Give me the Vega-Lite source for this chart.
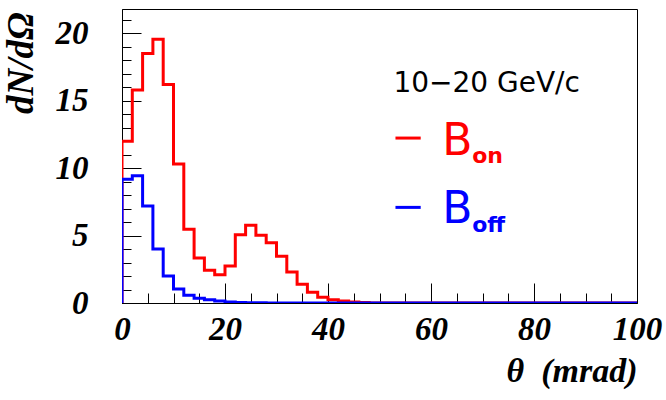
{
  "$schema": "https://vega.github.io/schema/vega-lite/v6.json",
  "width": 515,
  "height": 294,
  "autosize": {"type": "none"},
  "padding": {"left": 122, "top": 9, "right": 29, "bottom": 97},
  "background": "white",
  "config": {
    "view": {"stroke": "black", "strokeWidth": 1},
    "axis": {
      "grid": false,
      "domainColor": "black",
      "domainWidth": 1,
      "tickColor": "black",
      "tickWidth": 1,
      "labelFont": "Liberation Serif",
      "labelFontWeight": "bold",
      "labelFontStyle": "italic",
      "labelFontSize": 33,
      "labelColor": "black",
      "titleFont": "Liberation Serif",
      "titleFontWeight": "bold",
      "titleFontStyle": "italic",
      "titleColor": "black"
    }
  },
  "datasets": {
    "on": [
      {"theta": 0, "v": 0},
      {"theta": 0, "v": 12.0},
      {"theta": 2, "v": 15.8},
      {"theta": 4, "v": 18.5},
      {"theta": 6, "v": 19.55},
      {"theta": 8, "v": 16.2},
      {"theta": 10, "v": 10.3},
      {"theta": 12, "v": 5.47},
      {"theta": 14, "v": 3.34},
      {"theta": 16, "v": 2.43},
      {"theta": 18, "v": 2.1},
      {"theta": 20, "v": 2.75},
      {"theta": 22, "v": 5.07},
      {"theta": 24, "v": 5.77},
      {"theta": 26, "v": 5.02},
      {"theta": 28, "v": 4.46},
      {"theta": 30, "v": 3.47},
      {"theta": 32, "v": 2.3},
      {"theta": 34, "v": 1.39},
      {"theta": 36, "v": 0.79},
      {"theta": 38, "v": 0.42},
      {"theta": 40, "v": 0.25},
      {"theta": 42, "v": 0.15},
      {"theta": 44, "v": 0.07},
      {"theta": 46, "v": 0.03},
      {"theta": 48, "v": 0},
      {"theta": 100, "v": 0}
    ],
    "off": [
      {"theta": 0, "v": 0},
      {"theta": 0, "v": 9.18},
      {"theta": 2, "v": 9.43},
      {"theta": 4, "v": 7.2},
      {"theta": 6, "v": 4.0},
      {"theta": 8, "v": 2.0},
      {"theta": 10, "v": 1.04},
      {"theta": 12, "v": 0.57},
      {"theta": 14, "v": 0.35},
      {"theta": 16, "v": 0.25},
      {"theta": 18, "v": 0.15},
      {"theta": 20, "v": 0.07},
      {"theta": 22, "v": 0.04},
      {"theta": 24, "v": 0.02},
      {"theta": 26, "v": 0.01},
      {"theta": 28, "v": 0},
      {"theta": 100, "v": 0}
    ]
  },
  "resolve": {"axis": {"x": "independent", "y": "independent"}},
  "layer": [
    {
      "data": {"name": "on"},
      "mark": {"type": "line", "interpolate": "step-after", "color": "#ff0000", "strokeWidth": 3, "clip": true},
      "encoding": {
        "x": {
          "field": "theta", "type": "quantitative",
          "scale": {"domain": [0, 100], "nice": false, "zero": false},
          "axis": {
            "orient": "bottom",
            "values": [0, 20, 40, 60, 80, 100],
            "tickSize": -20,
            "labelPadding": 30,
            "labelBaseline": "top",
            "labelFlush": false,
            "labelOverlap": false,
            "title": "θ\u00a0\u00a0(mrad)",
            "titleFontSize": 34,
            "titleAnchor": null,
            "titleX": 515,
            "titleY": 78,
            "titleAlign": "right",
            "titleBaseline": "alphabetic"
          }
        },
        "y": {
          "field": "v", "type": "quantitative",
          "scale": {"domain": [0, 21.8], "nice": false},
          "axis": {
            "orient": "left",
            "values": [0, 5, 10, 15, 20],
            "tickSize": -19,
            "labelPadding": 53,
            "labelFlush": false,
            "labelOverlap": false,
            "title": "dN/dΩ",
            "titleFontSize": 37,
            "titleAnchor": null,
            "titleAngle": 270,
            "titleX": -90,
            "titleY": 3,
            "titleAlign": "right",
            "titleBaseline": "alphabetic"
          }
        }
      }
    },
    {
      "data": {"name": "off"},
      "mark": {"type": "line", "interpolate": "step-after", "color": "#0000ff", "strokeWidth": 3, "clip": true},
      "encoding": {
        "x": {
          "field": "theta", "type": "quantitative",
          "scale": {"domain": [0, 100], "nice": false, "zero": false},
          "axis": {
            "orient": "bottom",
            "values": [5, 10, 15, 25, 30, 35, 45, 50, 55, 65, 70, 75, 85, 90, 95],
            "tickSize": -10,
            "labels": false,
            "domain": false,
            "title": null
          }
        },
        "y": {
          "field": "v", "type": "quantitative",
          "scale": {"domain": [0, 21.8], "nice": false},
          "axis": {
            "orient": "left",
            "values": [1, 2, 3, 4, 6, 7, 8, 9, 11, 12, 13, 14, 16, 17, 18, 19, 21],
            "tickSize": -9,
            "labels": false,
            "domain": false,
            "title": null
          }
        }
      }
    },
    {
      "data": {"values": [{}]},
      "mark": {"type": "text", "font": "DejaVu Sans", "fontSize": 28, "color": "black", "align": "left", "baseline": "alphabetic"},
      "encoding": {
        "x": {"datum": 52.7, "type": "quantitative", "axis": null},
        "y": {"datum": 15.64, "type": "quantitative", "axis": null},
        "text": {"value": "10−20 GeV/c"}
      }
    },
    {
      "data": {"values": [{}]},
      "mark": {"type": "rule", "color": "#ff0000", "strokeWidth": 3},
      "encoding": {
        "x": {"datum": 53.1, "type": "quantitative", "axis": null},
        "x2": {"datum": 58.0},
        "y": {"datum": 12.23, "type": "quantitative", "axis": null}
      }
    },
    {
      "data": {"values": [{}]},
      "mark": {"type": "text", "font": "DejaVu Sans", "fontSize": 44, "color": "#ff0000", "align": "left", "baseline": "alphabetic"},
      "encoding": {
        "x": {"datum": 62.2, "type": "quantitative", "axis": null},
        "y": {"datum": 10.97, "type": "quantitative", "axis": null},
        "text": {"value": "B"}
      }
    },
    {
      "data": {"values": [{}]},
      "mark": {"type": "text", "font": "DejaVu Sans", "fontSize": 22, "fontWeight": "bold", "color": "#ff0000", "align": "left", "baseline": "alphabetic"},
      "encoding": {
        "x": {"datum": 68.0, "type": "quantitative", "axis": null},
        "y": {"datum": 10.37, "type": "quantitative", "axis": null},
        "text": {"value": "on"}
      }
    },
    {
      "data": {"values": [{}]},
      "mark": {"type": "rule", "color": "#0000ff", "strokeWidth": 3},
      "encoding": {
        "x": {"datum": 53.1, "type": "quantitative", "axis": null},
        "x2": {"datum": 58.0},
        "y": {"datum": 7.09, "type": "quantitative", "axis": null}
      }
    },
    {
      "data": {"values": [{}]},
      "mark": {"type": "text", "font": "DejaVu Sans", "fontSize": 44, "color": "#0000ff", "align": "left", "baseline": "alphabetic"},
      "encoding": {
        "x": {"datum": 62.2, "type": "quantitative", "axis": null},
        "y": {"datum": 5.94, "type": "quantitative", "axis": null},
        "text": {"value": "B"}
      }
    },
    {
      "data": {"values": [{}]},
      "mark": {"type": "text", "font": "DejaVu Sans", "fontSize": 22, "fontWeight": "bold", "color": "#0000ff", "align": "left", "baseline": "alphabetic"},
      "encoding": {
        "x": {"datum": 68.0, "type": "quantitative", "axis": null},
        "y": {"datum": 5.27, "type": "quantitative", "axis": null},
        "text": {"value": "off"}
      }
    }
  ]
}
